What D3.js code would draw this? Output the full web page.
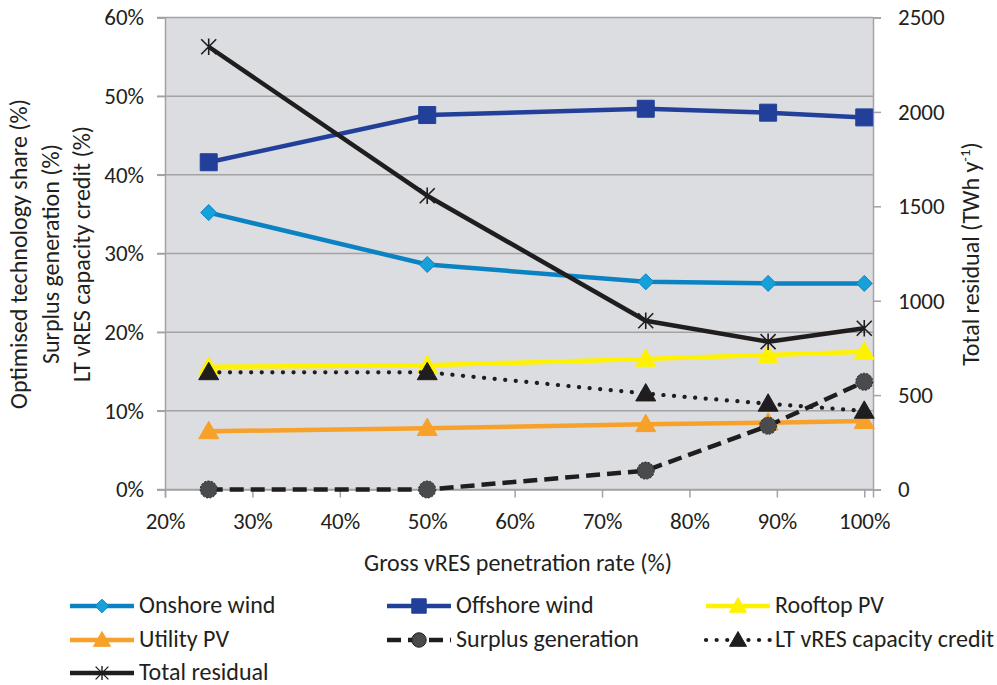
<!DOCTYPE html>
<html>
<head>
<meta charset="utf-8">
<script src="https://cdn.jsdelivr.net/npm/d3@7"></script>
<style>
  html, body { margin: 0; padding: 0; background: #ffffff; }
  svg { display: block; }
  text { font-family: Carlito, Lato, "Open Sans", sans-serif; fill: #231f20; }
</style>
</head>
<body>
<svg id="chart" width="997" height="685"></svg>
<script>
// Gross vRES penetration rate (%)
const penetration = [25, 50, 75, 89, 100];

// Left-axis series (%)
const onshoreWind = [35.2, 28.6, 26.4, 26.2, 26.2];
const offshoreWind = [41.6, 47.6, 48.4, 47.9, 47.3];
const rooftopPV = [15.6, 15.8, 16.6, 17.1, 17.5];
const utilityPV = [7.4, 7.8, 8.3, 8.5, 8.7];
const surplusGeneration = [0, 0, 2.4, 8.1, 13.7];
const capacityCredit = [14.9, 14.9, 12.2, 10.9, 10.0];

// Right-axis series (TWh/y)
const totalResidual = [2345, 1556, 894, 783, 854];

const xTicks = [20, 30, 40, 50, 60, 70, 80, 90, 100];
const yLeftTicks = [0, 10, 20, 30, 40, 50, 60];
const yRightTicks = [0, 500, 1000, 1500, 2000, 2500];

const svg = d3.select("#chart");
const plotLeft = 165, plotRight = 873, plotTop = 17.5, plotBottom = 489.5;
const FONT = "Carlito, Lato, 'Open Sans', sans-serif";
const TICK_FS = "23px", LABEL_FS = "24px";

const x = d3.scaleLinear().domain([20, 101]).range([plotLeft, plotRight]);
const yL = d3.scaleLinear().domain([0, 60]).range([plotBottom, plotTop]);
const yR = d3.scaleLinear().domain([0, 2500]).range([plotBottom, plotTop]);

// Plot background
svg.append("rect")
  .attr("x", plotLeft).attr("y", plotTop)
  .attr("width", plotRight - plotLeft).attr("height", plotBottom - plotTop)
  .attr("fill", "#dcdde0");

// Horizontal gridlines
svg.append("g").selectAll("line").data(yLeftTicks).join("line")
  .attr("x1", plotLeft - 8).attr("x2", plotRight)
  .attr("y1", d => yL(d)).attr("y2", d => yL(d))
  .attr("stroke", "#a3a3a6").attr("stroke-width", 1.5);

function styleAxis(g) {
  g.select(".domain").attr("stroke", "#a3a3a6").attr("stroke-width", 1.5);
  g.selectAll(".tick line").attr("stroke", "#a3a3a6").attr("stroke-width", 1.5);
  g.selectAll(".tick text").style("font-size", TICK_FS).style("font-family", FONT).attr("fill", "#231f20");
}

// Left axis
styleAxis(svg.append("g").attr("transform", `translate(${plotLeft},0)`)
  .call(d3.axisLeft(yL).tickValues(yLeftTicks).tickFormat(d => d + "%").tickSize(8).tickPadding(13)));

// Right axis
styleAxis(svg.append("g").attr("transform", `translate(${plotRight},0)`)
  .call(d3.axisRight(yR).tickValues(yRightTicks).tickFormat(d3.format("d")).tickSize(8).tickPadding(17)));

// Bottom axis
styleAxis(svg.append("g").attr("transform", `translate(0,${plotBottom})`)
  .call(d3.axisBottom(x).tickValues(xTicks).tickFormat(d => d + "%").tickSize(8).tickPadding(15)));

// Axis titles
const leftTitle = ["Optimised technology share (%)", "Surplus generation (%)", "LT vRES capacity credit (%)"];
leftTitle.forEach((t, i) => {
  svg.append("text")
    .attr("transform", `translate(${27 + i * 31.5},254) rotate(-90)`)
    .attr("text-anchor", "middle")
    .style("font-size", LABEL_FS)
    .text(t);
});

const rt = svg.append("text")
  .attr("transform", `translate(979,254) rotate(-90)`)
  .attr("text-anchor", "middle")
  .style("font-size", LABEL_FS);
rt.append("tspan").text("Total residual (TWh y");
rt.append("tspan").attr("dy", -9).style("font-size", "15px").text("-1");
rt.append("tspan").attr("dy", 9).text(")");

svg.append("text")
  .attr("x", 518).attr("y", 571)
  .attr("text-anchor", "middle")
  .style("font-size", LABEL_FS)
  .text("Gross vRES penetration rate (%)");

// Marker shapes
function markerPath(type, s) {
  switch (type) {
    case "diamond": return `M0,${-s}L${s},0L0,${s}L${-s},0Z`;
    case "square": return `M${-s},${-s}H${s}V${s}H${-s}Z`;
    case "triangle": return `M0,${-s * 1.05}L${s * 1.05},${s * 0.78}L${-s * 1.05},${s * 0.78}Z`;
    case "circle": return d3.symbol(d3.symbolCircle, Math.PI * s * s)();
    case "star": return `M${-s},${-s}L${s},${s}M${-s},${s}L${s},${-s}M0,${-s * 1.1}V${s * 1.1}`;
  }
}

const series = [
  { name: "Onshore wind", values: onshoreWind, axis: yL, color: "#0b83c2", mfill: "#17a1da", mstroke: "#0b83c2", marker: "diamond", ms: 8, dash: null, lw: 4.5 },
  { name: "Offshore wind", values: offshoreWind, axis: yL, color: "#22409a", mfill: "#22409a", mstroke: "#22409a", marker: "square", ms: 8.5, dash: null, lw: 4.5 },
  { name: "Rooftop PV", values: rooftopPV, axis: yL, color: "#fff200", mfill: "#fff200", mstroke: "#fff200", marker: "triangle", ms: 9.5, dash: null, lw: 4.5 },
  { name: "Utility PV", values: utilityPV, axis: yL, color: "#f7a12a", mfill: "#f7a12a", mstroke: "#f7a12a", marker: "triangle", ms: 9.5, dash: null, lw: 4.5 },
  { name: "Surplus generation", values: surplusGeneration, axis: yL, color: "#1f1d1e", mfill: "#4a4b4d", mstroke: "#1f1d1e", marker: "circle", ms: 8.5, dash: "14,7", lw: 4.5 },
  { name: "LT vRES capacity credit", values: capacityCredit, axis: yL, color: "#1f1d1e", mfill: "#1f1d1e", mstroke: "#1f1d1e", marker: "triangle", ms: 9.5, dash: "0.1,10.5", lw: 4.2, cap: "round" },
  { name: "Total residual", values: totalResidual, axis: yR, color: "#1f1d1e", mfill: "none", mstroke: "#1f1d1e", marker: "star", ms: 7.5, dash: null, lw: 4.5 }
];

const plot = svg.append("g");
series.forEach(s => {
  const pts = penetration.map((p, i) => [x(p), s.axis(s.values[i])]);
  plot.append("path")
    .attr("d", d3.line()(pts))
    .attr("fill", "none")
    .attr("stroke", s.color)
    .attr("stroke-width", s.lw)
    .attr("stroke-dasharray", s.dash)
    .attr("stroke-linecap", s.cap || "butt")
    .attr("stroke-linejoin", "round");
  plot.append("g").selectAll("path").data(pts).join("path")
    .attr("transform", d => `translate(${d[0]},${d[1]})`)
    .attr("d", markerPath(s.marker, s.ms))
    .attr("fill", s.mfill)
    .attr("stroke", s.mstroke)
    .attr("stroke-width", s.marker === "star" ? 1.6 : 1)
    .attr("stroke-dasharray", s.marker === "circle" ? "2,1.5" : null);
});

// Legend
const legendPos = [
  [70, 606], [387, 606], [706, 606],
  [70, 640], [387, 640], [706, 640],
  [70, 673]
];
series.forEach((s, i) => {
  const [lx, ly] = legendPos[i];
  const g = svg.append("g").attr("transform", `translate(${lx},${ly})`);
  g.append("line")
    .attr("x1", 0).attr("x2", 64).attr("y1", 0).attr("y2", 0)
    .attr("stroke", s.color).attr("stroke-width", s.lw)
    .attr("stroke-dasharray", s.dash)
    .attr("stroke-linecap", s.cap || "butt");
  g.append("path")
    .attr("transform", "translate(32,0)")
    .attr("d", markerPath(s.marker, s.ms * 0.85))
    .attr("fill", s.mfill)
    .attr("stroke", s.mstroke)
    .attr("stroke-width", s.marker === "star" ? 1.4 : 1);
  g.append("text")
    .attr("x", 69).attr("y", 7)
    .style("font-size", LABEL_FS)
    .text(s.name);
});
</script>
</body>
</html>
